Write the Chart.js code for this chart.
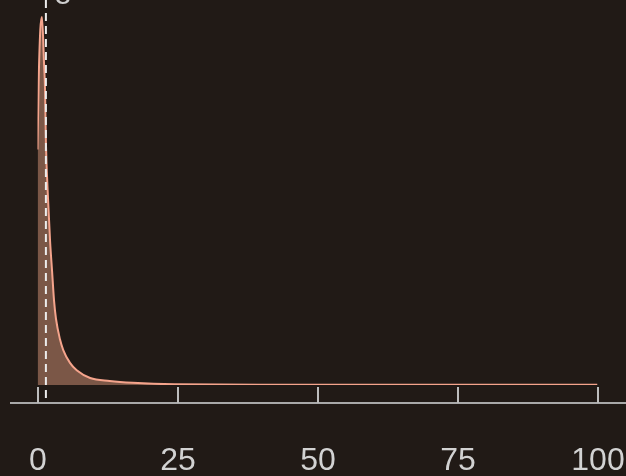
<!DOCTYPE html>
<html lang="en">
<head>
    <meta charset="UTF-8">
    <title>Density</title>
    <script src="https://cdn.jsdelivr.net/npm/chart.js@4.4.0/dist/chart.umd.min.js"></script>
    <style>
        body {
            margin: 0;
            background-color: #211a16;
            overflow: hidden;
        }
        #wrap {
            width: 626px;
            height: 476px;
        }
    </style>
</head>
<body>
    <div id="wrap"><canvas id="densityChart"></canvas></div>
    <script>
        // Density curve (relative to the peak)
        const xValues = [0, 0.2, 0.5, 0.8, 1.15, 1.35, 1.5, 1.9, 2.25, 2.6, 2.95, 3.3, 4.0, 4.6, 5.8, 7.0, 9.4, 12.9, 17, 24.5, 40, 60, 80, 100];
        const densities = [0.64, 0.82, 0.965, 1.0, 0.88, 0.80, 0.66, 0.50, 0.39, 0.31, 0.23, 0.18, 0.125, 0.095, 0.06, 0.04, 0.019, 0.011, 0.006, 0.002, 0.001, 0.001, 0.001, 0.001];
        const tickValues = [0, 25, 50, 75, 100];
        const tickLabels = ['0', '25', '50', '75', '100'];
        const markerValue = 1.5;
        const topLabel = 'o';

        const points = xValues.map((x, i) => ({ x: x, y: densities[i] }));

        // Axis line, ticks, labels and the dashed marker
        const decorPlugin = {
            id: 'decor',
            afterDatasetsDraw(chart) {
                const ctx = chart.ctx;
                const xs = chart.scales.x;
                const base = chart.chartArea.bottom;
                ctx.save();

                // dashed vertical marker
                const mx = xs.getPixelForValue(markerValue);
                ctx.strokeStyle = '#ececec';
                ctx.lineWidth = 2;
                ctx.setLineDash([8, 5]);
                ctx.beginPath();
                ctx.moveTo(mx, 0);
                ctx.lineTo(mx, base + 18);
                ctx.stroke();
                ctx.setLineDash([]);

                // axis line
                ctx.strokeStyle = '#a9a9a9';
                ctx.lineWidth = 2;
                ctx.beginPath();
                ctx.moveTo(10, base + 18);
                ctx.lineTo(626, base + 18);
                ctx.stroke();

                // ticks and labels
                ctx.fillStyle = '#d2d2d2';
                ctx.font = '32px "Liberation Sans", Arial, sans-serif';
                ctx.textAlign = 'center';
                ctx.textBaseline = 'alphabetic';
                tickValues.forEach((v, i) => {
                    const px = Math.round(xs.getPixelForValue(v));
                    ctx.strokeStyle = '#bdbdbd';
                    ctx.beginPath();
                    ctx.moveTo(px, base + 2);
                    ctx.lineTo(px, base + 18);
                    ctx.stroke();
                    ctx.fillText(tickLabels[i], px, 470);
                });

                // label clipped at the top edge
                ctx.fillStyle = '#cfcfcf';
                ctx.fillText(topLabel, 63, 4);
                ctx.restore();
            }
        };

        new Chart(document.getElementById('densityChart').getContext('2d'), {
            type: 'line',
            data: {
                datasets: [{
                    data: points,
                    borderColor: '#f5a48c',
                    backgroundColor: '#7b5747',
                    borderWidth: 2,
                    pointRadius: 0,
                    fill: 'origin',
                    cubicInterpolationMode: 'monotone'
                }]
            },
            options: {
                responsive: true,
                maintainAspectRatio: false,
                animation: false,
                layout: { padding: { left: 37.5, right: 28.5, top: 0, bottom: 91 } },
                plugins: { legend: { display: false }, tooltip: { enabled: false } },
                scales: {
                    x: { type: 'linear', min: 0, max: 100, display: false },
                    y: { min: 0, max: 1.046, display: false }
                }
            },
            plugins: [decorPlugin]
        });
    </script>
</body>
</html>
